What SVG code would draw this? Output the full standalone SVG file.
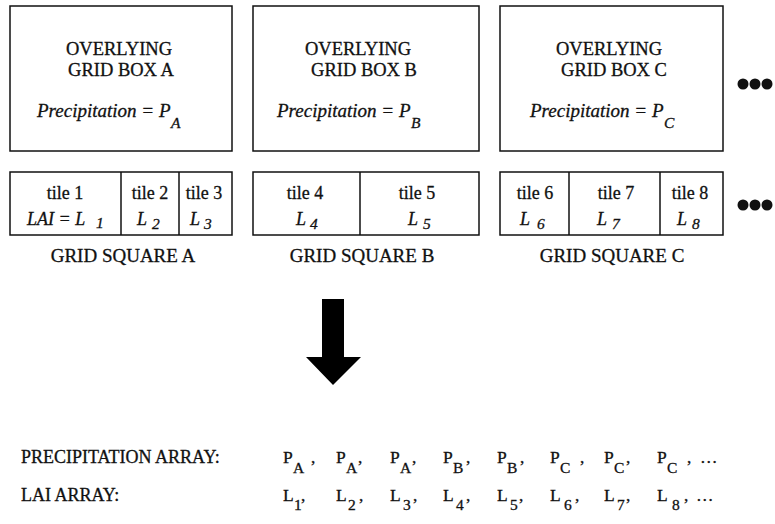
<svg xmlns="http://www.w3.org/2000/svg" width="775" height="524" viewBox="0 0 775 524">
<style>
.box{fill:#fff;stroke:#111;stroke-width:1.5}
.ln{stroke:#111;stroke-width:1.5}
text{font-family:"Liberation Serif","Times New Roman",serif;fill:#111;stroke:#111;stroke-width:0.3}
.t{font-size:18.5px}
.c{text-anchor:middle}
.it{font-style:italic;font-size:19px}
.il{font-style:italic;font-size:18px}
.sub{font-size:15.5px}
.tl{font-size:18px}
.gs{font-size:19px}
.arr{font-size:18px}
.ai{font-size:17.5px}
.as{font-size:15.5px}
.dot{fill:#111}
</style>
<rect width="775" height="524" fill="#fff"/>

<g id="boxA">
<rect class="box" x="10" y="6" width="222" height="145"/>
<text class="t c" x="119" y="55">OVERLYING</text>
<text class="t c" x="121" y="76">GRID BOX A</text>
<text class="it" x="37" y="117">Precipitation = P<tspan class="sub" x="171" y="128">A</tspan></text>
</g>
<g id="boxB">
<rect class="box" x="253" y="6" width="226" height="145"/>
<text class="t c" x="358" y="55">OVERLYING</text>
<text class="t c" x="364" y="76">GRID BOX B</text>
<text class="it" x="277" y="117">Precipitation = P<tspan class="sub" x="411" y="128">B</tspan></text>
</g>
<g id="boxC">
<rect class="box" x="500" y="6" width="223" height="145"/>
<text class="t c" x="609" y="55">OVERLYING</text>
<text class="t c" x="614" y="76">GRID BOX C</text>
<text class="it" x="530" y="117">Precipitation = P<tspan class="sub" x="664" y="128">C</tspan></text>
</g>

<g id="squareA">
<rect class="box" x="10" y="172" width="222" height="63"/>
<line class="ln" x1="121" y1="172" x2="121" y2="235"/>
<line class="ln" x1="179" y1="172" x2="179" y2="235"/>
<text class="tl c" x="65" y="199">tile 1</text>
<text class="tl c" x="150" y="199">tile 2</text>
<text class="tl c" x="204" y="199">tile 3</text>
<text class="il" x="27" y="225">LAI = L<tspan class="sub" x="96" y="228">1</tspan></text>
<text class="il" x="137" y="225">L<tspan class="sub" x="152" y="229">2</tspan></text>
<text class="il" x="190" y="225">L<tspan class="sub" x="204" y="229">3</tspan></text>
<text class="gs c" x="123" y="262">GRID SQUARE A</text>
</g>
<g id="squareB">
<rect class="box" x="253" y="172" width="226" height="63"/>
<line class="ln" x1="360" y1="172" x2="360" y2="235"/>
<text class="tl c" x="305" y="199">tile 4</text>
<text class="tl c" x="417" y="199">tile 5</text>
<text class="il" x="296" y="225">L<tspan class="sub" x="310" y="229">4</tspan></text>
<text class="il" x="408" y="225">L<tspan class="sub" x="423" y="229">5</tspan></text>
<text class="gs c" x="362" y="262">GRID SQUARE B</text>
</g>
<g id="squareC">
<rect class="box" x="500" y="172" width="223" height="63"/>
<line class="ln" x1="569" y1="172" x2="569" y2="235"/>
<line class="ln" x1="660" y1="172" x2="660" y2="235"/>
<text class="tl c" x="535" y="199">tile 6</text>
<text class="tl c" x="616" y="199">tile 7</text>
<text class="tl c" x="690" y="199">tile 8</text>
<text class="il" x="520" y="225">L<tspan class="sub" x="537" y="229">6</tspan></text>
<text class="il" x="597" y="225">L<tspan class="sub" x="612" y="229">7</tspan></text>
<text class="il" x="677" y="225">L<tspan class="sub" x="692" y="229">8</tspan></text>
<text class="gs c" x="612" y="262">GRID SQUARE C</text>
</g>

<g id="more">
<circle class="dot" cx="743" cy="84" r="5.5"/>
<circle class="dot" cx="755" cy="84" r="5.5"/>
<circle class="dot" cx="767" cy="84" r="5.5"/>
<circle class="dot" cx="743" cy="205" r="5.5"/>
<circle class="dot" cx="755" cy="205" r="5.5"/>
<circle class="dot" cx="767" cy="205" r="5.5"/>
</g>

<g id="connectors">
<polygon fill="#000" points="322,299 344,299 344,357 361,357 333,385 306,357 322,357"/>
</g>

<g id="arrays">
<text class="arr" x="21" y="463">PRECIPITATION ARRAY:</text>
<text class="arr" x="21" y="501">LAI ARRAY:</text>
<text class="ai" y="463">
<tspan x="283">P</tspan><tspan class="as" x="293" y="473">A</tspan><tspan x="311" y="463">,</tspan>
<tspan x="336">P</tspan><tspan class="as" x="346" y="473">A</tspan><tspan x="358" y="463">,</tspan>
<tspan x="390">P</tspan><tspan class="as" x="400" y="473">A</tspan><tspan x="412" y="463">,</tspan>
<tspan x="443">P</tspan><tspan class="as" x="453" y="473">B</tspan><tspan x="466" y="463">,</tspan>
<tspan x="497">P</tspan><tspan class="as" x="507" y="473">B</tspan><tspan x="520" y="463">,</tspan>
<tspan x="550">P</tspan><tspan class="as" x="560" y="473">C</tspan><tspan x="580" y="463">,</tspan>
<tspan x="604">P</tspan><tspan class="as" x="614" y="473">C</tspan><tspan x="626" y="463">,</tspan>
<tspan x="657">P</tspan><tspan class="as" x="667" y="473">C</tspan><tspan x="687" y="463">,</tspan>
<tspan x="700">…</tspan>
</text>
<text class="ai" y="501">
<tspan x="283">L</tspan><tspan class="as" x="294" y="510">1</tspan><tspan x="301" y="501">,</tspan>
<tspan x="336">L</tspan><tspan class="as" x="348" y="510">2</tspan><tspan x="359" y="501">,</tspan>
<tspan x="390">L</tspan><tspan class="as" x="403" y="510">3</tspan><tspan x="413" y="501">,</tspan>
<tspan x="443">L</tspan><tspan class="as" x="456" y="510">4</tspan><tspan x="466" y="501">,</tspan>
<tspan x="497">L</tspan><tspan class="as" x="510" y="510">5</tspan><tspan x="519" y="501">,</tspan>
<tspan x="550">L</tspan><tspan class="as" x="564" y="510">6</tspan><tspan x="575" y="501">,</tspan>
<tspan x="604">L</tspan><tspan class="as" x="617" y="510">7</tspan><tspan x="626" y="501">,</tspan>
<tspan x="657">L</tspan><tspan class="as" x="672" y="510">8</tspan><tspan x="684" y="501">,</tspan>
<tspan x="696">…</tspan>
</text>
</g>
</svg>
